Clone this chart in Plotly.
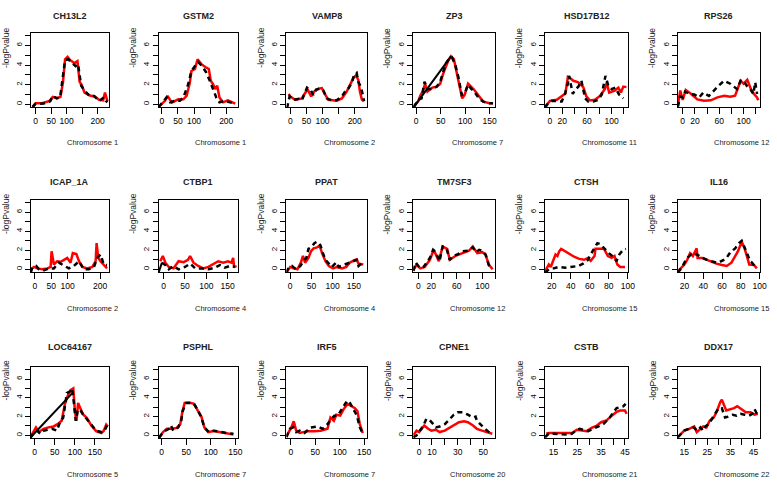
import plotly.graph_objects as go

W, H = 777, 490

titles = ["CH13L2", "GSTM2", "VAMP8", "ZP3", "HSD17B12", "RPS26",
          "ICAP_1A", "CTBP1", "PPAT", "TM7SF3", "CTSH", "IL16",
          "LOC64167", "PSPHL", "IRF5", "CPNE1", "CSTB", "DDX17"]
chromosomes = ["Chromosome 1", "Chromosome 1", "Chromosome 2", "Chromosome 7", "Chromosome 11", "Chromosome 12",
               "Chromosome 2", "Chromosome 4", "Chromosome 4", "Chromosome 12", "Chromosome 15", "Chromosome 15",
               "Chromosome 5", "Chromosome 7", "Chromosome 7", "Chromosome 20", "Chromosome 21", "Chromosome 22"]

# ---- data (position, -log P) ----
CH13L2_black_x = [-10, 0, 26, 47, 56, 68, 79, 87, 95, 105, 116, 129, 137, 142, 147, 158, 174, 189, 205, 221, 226, 232]
CH13L2_black_y = [-0.3, 0.05, 0.07, 0.3, 0.85, 0.6, 0.7, 2.4, 4.5, 4.6, 4.3, 3.9, 4.1, 2.7, 1.9, 1.4, 0.85, 0.85, 0.35, 0.7, 0.35, 0.2]
CH13L2_red_x = [-10, 0, 20, 45, 55, 68, 80, 88, 95, 103, 112, 125, 135, 142, 148, 158, 175, 190, 205, 218, 224, 232]
CH13L2_red_y = [-0.25, 0.1, 0.1, 0.35, 0.75, 0.65, 0.75, 2.2, 4.6, 4.85, 4.5, 4.2, 4.4, 2.3, 2.0, 1.2, 0.9, 0.8, 0.45, 0.4, 1.2, 0.3]

GSTM2_black_x = [-10, 5, 15, 26, 41, 56, 67, 82, 92, 103, 113, 125, 138, 149, 159, 169, 179, 195, 215, 228]
GSTM2_black_y = [-0.3, 0.35, 0.7, 0.2, 0.35, 0.35, 0.7, 2.05, 3.4, 3.9, 4.3, 3.9, 3.25, 2.4, 1.55, 0.7, 0.2, 0.35, 0.17, 0.07]
GSTM2_red_x = [-10, 10, 18, 31, 51, 67, 77, 87, 92, 103, 111, 123, 135, 146, 152, 159, 166, 172, 179, 190, 205, 221, 228]
GSTM2_red_y = [-0.27, 0.35, 0.86, 0.17, 0.5, 0.5, 0.85, 2.2, 3.4, 3.6, 4.6, 4.1, 3.8, 3.6, 2.4, 2.05, 1.55, 1.9, 0.7, 0.2, 0.4, 0.17, 0.07]

VAMP8_black_x = [-10, -2, 10, 26, 36, 46, 52, 62, 72, 80, 93, 103, 113, 129, 144, 160, 170, 180, 191, 198, 206, 211, 219, 225, 229]
VAMP8_black_y = [-0.4, 0.8, 0.45, 0.55, 0.4, 1.3, 1.7, 1.5, 0.95, 1.5, 1.6, 1.4, 0.6, 0.4, 0.4, 0.8, 1.3, 1.6, 2.2, 3.0, 3.2, 2.3, 1.8, 0.95, 0.3]
VAMP8_red_x = [-5, 0, 15, 36, 46, 54, 65, 74, 88, 98, 108, 118, 144, 160, 175, 186, 196, 204, 211, 216, 222, 227]
VAMP8_red_y = [1.05, 0.8, 0.45, 0.6, 1.15, 1.5, 0.8, 1.3, 1.6, 1.65, 1.0, 0.45, 0.35, 0.6, 1.3, 2.0, 2.7, 2.95, 2.5, 1.3, 0.5, 0.3]

ZP3_black_x = [-5, 4, 11, 17, 23, 33, 42, 49, 55, 61, 68, 73, 80, 87, 93, 99, 106, 112, 118, 128, 137, 150, 157]
ZP3_black_y = [-0.3, 0.45, 0.6, 2.3, 1.55, 1.55, 1.8, 2.3, 3.3, 4.2, 4.7, 4.8, 4.0, 2.6, 0.95, 1.1, 2.0, 1.6, 1.35, 0.6, 0.27, 0.1, 0.1]
ZP3_red_x = [-5, 4, 9, 14, 18, 23, 33, 42, 49, 55, 65, 71, 77, 84, 90, 94, 99, 106, 112, 118, 128, 137, 150, 157]
ZP3_red_y = [-0.2, 0.3, 0.95, 1.35, 2.1, 1.3, 1.7, 1.8, 2.1, 3.1, 4.4, 4.9, 4.6, 2.95, 1.3, 0.6, 0.95, 2.1, 1.8, 1.5, 0.85, 0.27, 0.1, 0.1]
ZP3_solid_x = [-5, 71]
ZP3_solid_y = [-0.3, 4.9]

HSD17B12_black_x = [-8, -3, 3, 11, 19, 24, 29, 31, 34, 37, 41, 46, 51, 57, 62, 70, 78, 84, 90, 95, 100, 106, 112, 119]
HSD17B12_black_y = [-0.35, 0.1, 0.35, 0.35, 0.28, 1.0, 2.1, 2.9, 1.8, 1.05, 1.5, 1.8, 2.4, 0.6, 0.28, 0.28, 0.45, 1.0, 2.9, 1.8, 1.55, 1.7, 1.0, 0.6]
HSD17B12_red_x = [-8, 0, 11, 19, 25, 29, 32, 38, 46, 54, 59, 65, 73, 81, 89, 92, 96, 105, 111, 115, 119, 124]
HSD17B12_red_y = [-0.25, 0.35, 0.45, 0.85, 1.1, 2.8, 2.7, 2.4, 2.25, 1.75, 0.8, 0.38, 0.45, 0.85, 1.55, 2.2, 1.2, 1.4, 1.7, 1.2, 1.8, 1.75]

RPS26_black_x = [-8, -4, 0, 4, 11, 19, 27, 34, 43, 51, 59, 68, 78, 89, 95, 100, 105, 111, 116, 119, 122]
RPS26_black_y = [-0.25, 0.8, 0.7, 1.3, 1.05, 1.0, 0.7, 1.2, 0.85, 1.4, 1.9, 2.4, 2.1, 1.55, 2.4, 2.4, 1.9, 1.55, 1.05, 2.25, 1.05]
RPS26_red_x = [-8, -4, 0, 5, 14, 24, 35, 46, 57, 68, 78, 86, 95, 100, 106, 112, 117, 122, 124]
RPS26_red_y = [-0.1, 1.4, 0.45, 1.45, 1.05, 0.5, 0.35, 0.4, 0.7, 0.87, 0.76, 0.87, 2.4, 2.1, 2.5, 1.55, 1.05, 0.7, 0.4]

ICAP_1A_black_x = [-13, -8, -3, 4, 12, 28, 43, 58, 73, 89, 104, 119, 135, 150, 165, 181, 191, 201, 211, 221]
ICAP_1A_black_y = [-0.35, 0.17, 0.25, 0.35, 0, -0.1, 0.1, 0.1, 0.7, 0.35, 0.1, 0.35, 0.85, 0, 0, 0.25, 1.2, 1.55, 0.5, 0.45]
ICAP_1A_red_x = [-13, -3, 7, 22, 38, 48, 51, 58, 68, 79, 89, 99, 109, 116, 127, 135, 145, 160, 176, 186, 189, 194, 201, 211, 221]
ICAP_1A_red_y = [0, 0.25, 0.1, 0, 0.1, 0.25, 1.9, 0.5, 0.85, 0.8, 1.0, 1.2, 0.7, 1.7, 1.6, 0.85, 0.25, 0.1, 0.25, 0.85, 2.75, 1.2, 0.85, 0.5, 0.1]

CTBP1_black_x = [-4, 4, 12, 23, 35, 50, 62, 74, 89, 105, 120, 132, 143, 155, 167]
CTBP1_black_y = [0.7, 0.45, 0, 0.35, 0, 0.25, 0.6, 0.1, 0.1, 0, 0.17, 0.45, 0.17, 0.35, 0.25]
CTBP1_red_x = [-8, -2, 4, 12, 23, 35, 47, 57, 62, 70, 81, 93, 105, 116, 128, 140, 151, 159, 163, 165, 171]
CTBP1_red_y = [0.85, 1.4, 0.7, 0.25, 0.1, 0.85, 0.75, 1.0, 1.4, 0.7, 0.35, 0.1, 0.25, 0.5, 0.85, 0.7, 0.85, 0.7, 1.2, 0.35, 0.25]
CTBP1_solid_x = [-12, -4]
CTBP1_solid_y = [-0.35, 0.7]

PPAT_black_x = [-9, -4, 4, 14, 24, 31, 38, 43, 51, 57, 63, 71, 77, 83, 91, 98, 109, 114, 128, 138, 150, 157, 161, 167]
PPAT_black_y = [-0.35, 0.17, 0.35, 0, 0.35, 0.85, 1.2, 2.15, 2.4, 2.75, 2.9, 2.55, 1.7, 1.0, 0.6, 0.25, 0.75, 0.25, 0.5, 0.7, 0.9, 1.0, 0.35, 0.6]
PPAT_red_x = [-8, 0, 8, 17, 25, 30, 35, 43, 49, 55, 63, 69, 75, 83, 91, 101, 110, 122, 132, 140, 150, 156, 161, 172]
PPAT_red_y = [-0.25, 0.25, 0.1, 0, 0.7, 1.4, 0.7, 1.2, 1.9, 2.2, 2.3, 2.5, 1.7, 0.85, 0.35, 0.1, 0.25, 0.1, 0.25, 0.7, 0.95, 1.05, 0.6, 0.5]

TM7SF3_black_x = [-8, -4, 2, 8, 13, 18, 23, 28, 33, 38, 44, 49, 54, 62, 69, 77, 85, 90, 95, 100, 105, 110, 115]
TM7SF3_black_y = [-0.15, 0.7, 0.17, 0.25, 0.7, 1.2, 2.05, 1.7, 0.85, 2.4, 2.2, 1.0, 1.37, 1.6, 1.9, 1.95, 2.3, 1.8, 2.05, 1.95, 1.55, 0.45, 0.1]
TM7SF3_red_x = [-8, -3, 3, 10, 18, 24, 32, 38, 45, 49, 59, 69, 79, 85, 92, 100, 105, 110, 116]
TM7SF3_red_y = [-0.15, 0.5, 0.1, 0.25, 1.0, 2.05, 0.85, 2.4, 2.15, 1.0, 1.45, 1.7, 1.95, 2.4, 1.7, 1.8, 1.55, 0.5, 0.0]

CTSH_black_x = [13, 17, 22, 27, 34, 41, 48, 53, 58, 63, 68, 71, 75, 80, 86, 88, 91, 95, 98]
CTSH_black_y = [-0.35, 0, 0.1, 0.25, 0.17, 0.25, 0.35, 0.6, 1.0, 1.9, 2.75, 2.65, 2.2, 1.7, 1.2, 0.85, 1.55, 2.05, 2.15]
CTSH_red_x = [13, 17, 19, 22, 24, 26, 28, 30, 34, 39, 44, 49, 54, 58, 61, 65, 66, 71, 75, 79, 83, 86, 89, 92, 97]
CTSH_red_y = [-0.2, 0.5, 0.25, 1.0, 1.55, 1.4, 1.9, 2.15, 1.9, 1.55, 1.3, 1.1, 1.0, 1.2, 0.9, 1.4, 2.15, 2.15, 2.15, 1.4, 1.2, 1.4, 0.5, 0.25, 0.25]

IL16_black_x = [13, 17, 20, 23, 27, 30, 33, 38, 44, 49, 54, 59, 64, 69, 74, 78, 81, 84, 87, 90, 92, 95]
IL16_black_y = [-0.35, 0.15, 0.7, 1.2, 1.55, 1.45, 1.6, 1.25, 1.0, 0.85, 0.7, 0.85, 1.1, 1.8, 2.2, 2.75, 3.0, 2.3, 1.55, 0.85, 0.7, 0.25]
IL16_red_x = [13, 17, 20, 23, 26, 29, 31, 33, 34, 39, 44, 49, 54, 60, 65, 70, 74, 77, 81, 84, 87, 89, 94, 97]
IL16_red_y = [-0.2, 0.17, 0.5, 1.0, 1.7, 1.4, 1.9, 2.2, 1.2, 1.2, 1.0, 0.8, 0.6, 0.45, 0.35, 0.7, 1.4, 1.9, 2.9, 2.2, 1.2, 0.5, 0.45, 0.1]

LOC64167_black_x = [-11, -2, 6, 14, 22, 30, 43, 55, 63, 71, 80, 88, 93, 98, 102, 107, 112, 120, 129, 141, 153, 166, 174, 180]
LOC64167_black_y = [-0.25, 0.25, 0.5, 0.17, 0.5, 0.6, 0.7, 0.5, 1.4, 1.9, 4.5, 4.7, 5.0, 3.3, 1.55, 2.6, 2.8, 2.25, 1.75, 1.2, 0.5, 0.35, 0.5, 1.05]
LOC64167_red_x = [-11, -2, 3, 10, 22, 34, 47, 57, 67, 75, 82, 90, 96, 100, 104, 108, 112, 120, 129, 141, 153, 166, 172, 178, 182]
LOC64167_red_y = [-0.2, 0.5, 0.85, 0.35, 0.7, 0.85, 0.95, 1.2, 1.55, 3.3, 4.2, 4.85, 5.0, 2.6, 1.55, 3.45, 3.1, 2.25, 1.9, 1.05, 0.45, 0.25, 0.5, 1.15, 0.95]
LOC64167_solid_x = [-11, 96]
LOC64167_solid_y = [-0.25, 4.6]

PSPHL_black_x = [-5, 1, 8, 15, 19, 24, 34, 40, 43, 50, 60, 66, 73, 81, 87, 96, 106, 119, 132, 146]
PSPHL_black_y = [-0.25, 0.17, 0.5, 0.7, 1.05, 0.5, 0.85, 1.5, 2.6, 3.45, 3.45, 3.35, 2.75, 1.9, 0.85, 0.35, 0.5, 0.35, 0.25, 0.17]
PSPHL_red_x = [-5, 3, 11, 21, 31, 38, 42, 47, 56, 66, 74, 81, 87, 95, 106, 119, 132, 146]
PSPHL_red_y = [-0.25, 0.35, 0.7, 0.7, 0.8, 1.2, 2.4, 3.45, 3.5, 3.35, 2.6, 2.0, 0.85, 0.35, 0.45, 0.35, 0.25, 0.1]

IRF5_black_x = [-9, -2, 5, 11, 18, 28, 41, 55, 65, 75, 83, 89, 96, 105, 115, 121, 128, 135, 141, 147]
IRF5_black_y = [-0.2, 0.7, 0.85, 0.35, 0.5, 0.25, 0.85, 0.95, 0.7, 1.2, 1.75, 2.1, 2.1, 2.9, 3.7, 3.45, 2.8, 2.1, 0.85, 0.17]
IRF5_red_x = [-9, -2, 1, 6, 11, 18, 25, 35, 48, 61, 75, 81, 88, 93, 101, 108, 116, 125, 131, 136, 141, 147]
IRF5_red_y = [-0.1, 0.5, 0.85, 1.5, 0.5, 0.25, 0.35, 0.45, 0.45, 0.5, 0.7, 1.9, 1.55, 2.2, 2.1, 2.8, 3.35, 3.1, 2.9, 2.6, 1.2, 0.25]

CPNE1_black_x = [-4.6, -2, 0.5, 3, 5.6, 8, 11, 13, 16, 20, 24, 27, 30, 34, 38, 42, 44, 45, 48, 50.5, 53, 56]
CPNE1_black_y = [-0.2, 0, 0.5, 0.95, 1.75, 1.65, 1.2, 0.85, 0.95, 1.2, 1.75, 2.2, 2.45, 2.45, 2.2, 1.9, 2.0, 1.55, 1.15, 0.8, 0.5, 0.17]
CPNE1_red_x = [-4.6, -2, 0, 2, 4, 7, 9.5, 13, 16, 20, 24, 27, 31, 35, 38, 42, 45, 49, 53, 57]
CPNE1_red_y = [0, 0.5, 0.35, 0.7, 1.05, 0.7, 0.5, 0.6, 0.35, 0.5, 0.8, 1.05, 1.4, 1.5, 1.4, 1.05, 0.7, 0.5, 0.35, 0.17]

CSTB_black_x = [11.5, 13, 15, 17.8, 20.6, 22.7, 24.3, 26, 27.6, 29.6, 31.7, 33.8, 35.9, 37.3, 38.7, 40.1, 41.5, 42.9, 44.3, 45.3]
CSTB_black_y = [-0.2, 0.17, 0.17, 0.1, 0.1, 0.17, 0.5, 0.7, 0.6, 0.45, 0.7, 0.95, 1.2, 1.55, 1.9, 2.45, 2.9, 3.0, 3.1, 3.35]
CSTB_red_x = [12, 13.2, 15.7, 18.5, 21.3, 23, 24.8, 26.9, 29, 31, 33, 35, 37.3, 39.4, 41.5, 42.9, 45, 45.7]
CSTB_red_y = [0.17, 0.25, 0.25, 0.25, 0.25, 0.25, 0.6, 0.5, 0.45, 0.8, 1.0, 1.4, 1.6, 2.1, 2.5, 2.65, 2.65, 2.3]

DDX17_black_x = [12.2, 13.6, 15, 17, 19, 20.7, 22, 23.2, 24.2, 25.6, 27, 28.5, 29.9, 31.3, 32.7, 34.1, 36, 37.7, 39.4, 41.2, 43.1, 44.5, 45.5, 46.5]
DDX17_black_y = [-0.2, 0.17, 0.5, 0.7, 0.85, 0.5, 0.85, 0.5, 0.95, 1.2, 1.75, 2.45, 2.9, 2.9, 1.9, 2.0, 2.2, 2.1, 2.3, 2.2, 2.1, 2.3, 2.8, 2.3]
DDX17_red_x = [12.9, 15, 17.1, 19.3, 20.4, 21.8, 23.2, 24.6, 26, 27.8, 29.2, 30.6, 31.3, 33.2, 34.9, 36.6, 38, 39.8, 41.7, 43.7, 45.5, 46.9]
DDX17_red_y = [0, 0.5, 0.7, 0.95, 0.35, 0.7, 0.95, 0.85, 1.55, 1.9, 2.6, 3.55, 3.8, 2.65, 2.75, 2.9, 3.1, 2.75, 2.45, 2.45, 2.2, 2.3]

# ---- axis ticks ----
ticks_200 = [0, 50, 100, 150, 200]
labels_200 = ["0", "50", "100", "", "200"]
ticks_150 = [0, 50, 100, 150]
labels_150 = ["0", "50", "100", "150"]
ticks_120 = [0, 20, 40, 60, 80, 100, 120]
labels_120 = ["0", "20", "", "60", "", "100", ""]
ticks_100 = [20, 40, 60, 80, 100]
labels_100 = ["20", "40", "60", "80", "100"]
ticks_50 = [0, 10, 20, 30, 40, 50]
labels_50 = ["0", "10", "", "30", "", "50"]
ticks_45 = [15, 20, 25, 30, 35, 40, 45]
labels_45 = ["15", "", "25", "", "35", "", "45"]
y_ticks = [0, 1, 2, 3, 4, 5, 6, 7]
y_labels = ["0", "", "2", "", "4", "", "6", ""]

panels = [
    (CH13L2_red_x, CH13L2_red_y, CH13L2_black_x, CH13L2_black_y, None, None, [-16, 237], ticks_200, labels_200),
    (GSTM2_red_x, GSTM2_red_y, GSTM2_black_x, GSTM2_black_y, None, None, [-10, 236], ticks_200, labels_200),
    (VAMP8_red_x, VAMP8_red_y, VAMP8_black_x, VAMP8_black_y, None, None, [-12, 237], ticks_200, labels_200),
    (ZP3_red_x, ZP3_red_y, ZP3_black_x, ZP3_black_y, ZP3_solid_x, ZP3_solid_y, [-6, 162], ticks_150, labels_150),
    (HSD17B12_red_x, HSD17B12_red_y, HSD17B12_black_x, HSD17B12_black_y, None, None, [-8, 127], ticks_120, labels_120),
    (RPS26_red_x, RPS26_red_y, RPS26_black_x, RPS26_black_y, None, None, [-8, 127], ticks_120, labels_120),
    (ICAP_1A_red_x, ICAP_1A_red_y, ICAP_1A_black_x, ICAP_1A_black_y, None, None, [-13, 227], ticks_200, labels_200),
    (CTBP1_red_x, CTBP1_red_y, CTBP1_black_x, CTBP1_black_y, CTBP1_solid_x, CTBP1_solid_y, [-12, 174], ticks_150, labels_150),
    (PPAT_red_x, PPAT_red_y, PPAT_black_x, PPAT_black_y, None, None, [-9, 180], ticks_150, labels_150),
    (TM7SF3_red_x, TM7SF3_red_y, TM7SF3_black_x, TM7SF3_black_y, None, None, [-8, 120.5], ticks_120, labels_120),
    (CTSH_red_x, CTSH_red_y, CTSH_black_x, CTSH_black_y, None, None, [13, 100.5], ticks_100, labels_100),
    (IL16_red_x, IL16_red_y, IL16_black_x, IL16_black_y, None, None, [13, 100.5], ticks_100, labels_100),
    (LOC64167_red_x, LOC64167_red_y, LOC64167_black_x, LOC64167_black_y, LOC64167_solid_x, LOC64167_solid_y, [-10, 185], ticks_150, labels_150),
    (PSPHL_red_x, PSPHL_red_y, PSPHL_black_x, PSPHL_black_y, None, None, [-6, 155], ticks_150, labels_150),
    (IRF5_red_x, IRF5_red_y, IRF5_black_x, IRF5_black_y, None, None, [-9, 155], ticks_150, labels_150),
    (CPNE1_red_x, CPNE1_red_y, CPNE1_black_x, CPNE1_black_y, None, None, [-4.6, 59.5], ticks_50, labels_50),
    (CSTB_red_x, CSTB_red_y, CSTB_black_x, CSTB_black_y, None, None, [11.5, 46.4], ticks_45, labels_45),
    (DDX17_red_x, DDX17_red_y, DDX17_black_x, DDX17_black_y, None, None, [12.2, 47.9], ticks_45, labels_45),
]

# ---- layout geometry (pixels) ----
col_px = [(31, 110), (160, 240), (289, 370), (417, 500), (550, 634), (684, 767)]
row_px = [(33, 107), (200, 272), (367, 438)]
title_off = [-17, -18, -20]

FONT = "Liberation Sans"
fig = go.Figure()
layout = dict(
    width=W, height=H, margin=dict(l=0, r=0, t=0, b=0),
    paper_bgcolor="white", plot_bgcolor="white", showlegend=False,
    font=dict(family=FONT, color="black", size=8),
)
annotations = []

for i, (rx, ry, bx, by, sx, sy, xr, xt, xl) in enumerate(panels):
    r, c = divmod(i, 6)
    l, rr = col_px[c]
    t, b = row_px[r]
    n = "" if i == 0 else str(i + 1)
    xa, ya = "x" + n, "y" + n
    fig.add_trace(go.Scatter(x=rx, y=ry, mode="lines", xaxis=xa, yaxis=ya,
                             line=dict(color="#ff0000", width=2.5), hoverinfo="skip"))
    fig.add_trace(go.Scatter(x=bx, y=by, mode="lines", xaxis=xa, yaxis=ya,
                             line=dict(color="black", width=2.5, dash="5px,4px"), hoverinfo="skip"))
    if sx is not None:
        fig.add_trace(go.Scatter(x=sx, y=sy, mode="lines", xaxis=xa, yaxis=ya,
                                 line=dict(color="black", width=2), hoverinfo="skip"))
    layout["xaxis" + n] = dict(
        domain=[l / W, rr / W], range=xr, anchor=ya,
        tickvals=xt, ticktext=xl, ticks="outside", ticklen=6, tickcolor="black",
        showline=True, linecolor="black", linewidth=1, mirror=True,
        showgrid=False, zeroline=False, tickfont=dict(size=8.5, family=FONT), fixedrange=True,
    )
    layout["yaxis" + n] = dict(
        domain=[1 - b / H, 1 - t / H], range=[-0.28, 7.28], anchor=xa,
        tickvals=y_ticks, ticktext=y_labels, tickangle=-90,
        ticks="outside", ticklen=5, tickcolor="black",
        showline=True, linecolor="black", linewidth=1, mirror=True,
        showgrid=False, zeroline=False, tickfont=dict(size=8, family=FONT), fixedrange=True,
    )
    cx = (l + rr) / 2
    annotations.append(dict(text="<b>" + titles[i] + "</b>", x=cx / W, y=1 - (t + title_off[r]) / H,
                            xref="paper", yref="paper", showarrow=False,
                            font=dict(size=9, family=FONT, color="#222222"), xanchor="center", yanchor="middle"))
    annotations.append(dict(text=chromosomes[i], x=(cx + 23) / W, y=1 - (b + 36) / H,
                            xref="paper", yref="paper", showarrow=False,
                            font=dict(size=7.5, family=FONT, color="#222222"), xanchor="center", yanchor="middle"))
    annotations.append(dict(text="-logPvalue", x=max(l - 26, 6) / W, y=1 - ((t + b) / 2 - 22) / H,
                            xref="paper", yref="paper", showarrow=False, textangle=-90,
                            font=dict(size=8.5, family=FONT, color="#222222"), xanchor="center", yanchor="middle"))

layout["annotations"] = annotations
fig.update_layout(**layout)
fig.write_html("out.html")
